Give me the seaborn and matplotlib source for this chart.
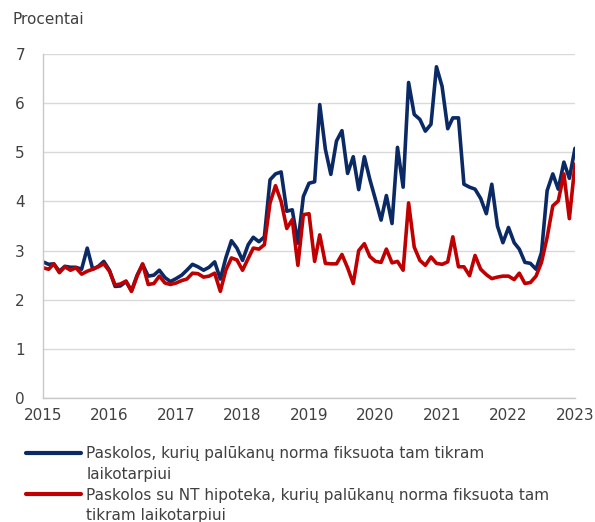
import numpy as np
import pandas as pd
import matplotlib
matplotlib.use("Agg")
import matplotlib.pyplot as plt
from matplotlib.lines import Line2D
import seaborn as sns

# Monthly rates, January 2015 - January 2023
months = pd.date_range("2015-01-01", periods=97, freq="MS")

fixed_rate = [
    2.77, 2.72, 2.73, 2.58, 2.68, 2.66, 2.66, 2.62, 3.05, 2.62, 2.68, 2.78,
    2.60, 2.27, 2.28, 2.37, 2.18, 2.50, 2.72, 2.48, 2.50, 2.60, 2.45, 2.37,
    2.43, 2.50, 2.60, 2.72, 2.67, 2.60, 2.66, 2.77, 2.42, 2.85, 3.20, 3.05,
    2.80, 3.12, 3.27, 3.18, 3.28, 4.44, 4.56, 4.60, 3.80, 3.83, 3.15, 4.10,
    4.37, 4.40, 5.97, 5.06, 4.55, 5.23, 5.44, 4.57, 4.91, 4.24, 4.91, 4.45,
    4.04, 3.62, 4.12, 3.55, 5.10, 4.29, 6.42, 5.77, 5.67, 5.43, 5.57, 6.74,
    6.34, 5.48, 5.70, 5.70, 4.35, 4.29, 4.25, 4.06, 3.75, 4.35, 3.50, 3.16,
    3.47, 3.16, 3.03, 2.76, 2.74, 2.62, 2.96, 4.22, 4.56, 4.25, 4.80, 4.47,
    5.08,
]

mortgage_fixed_rate = [
    2.65, 2.62, 2.73, 2.55, 2.67, 2.60, 2.65, 2.52, 2.58, 2.62, 2.67, 2.73,
    2.58, 2.30, 2.32, 2.38, 2.17, 2.48, 2.73, 2.31, 2.33, 2.48, 2.34, 2.31,
    2.34, 2.39, 2.42, 2.54, 2.53, 2.46, 2.48, 2.54, 2.17, 2.60, 2.85, 2.81,
    2.60, 2.84, 3.05, 3.03, 3.12, 3.97, 4.32, 4.00, 3.45, 3.63, 2.70, 3.73,
    3.75, 2.78, 3.32, 2.74, 2.73, 2.73, 2.92, 2.65, 2.33, 3.00, 3.14, 2.88,
    2.78, 2.76, 3.03, 2.75, 2.78, 2.60, 3.97, 3.07, 2.80, 2.70, 2.87, 2.74,
    2.72, 2.77, 3.28, 2.67, 2.67, 2.49, 2.90, 2.62, 2.51, 2.43, 2.46, 2.48,
    2.48, 2.41, 2.54, 2.33, 2.35, 2.48, 2.76, 3.27, 3.91, 4.01, 4.56, 3.65,
    4.76,
]

series_names = [
    "Paskolos, kurių palūkanų norma fiksuota tam tikram laikotarpiui",
    "Paskolos su NT hipoteka, kurių palūkanų norma fiksuota tam tikram laikotarpiui",
]
legend_lines = [
    ["Paskolos, kurių palūkanų norma fiksuota tam tikram", "laikotarpiui"],
    ["Paskolos su NT hipoteka, kurių palūkanų norma fiksuota tam", "tikram laikotarpiui"],
]
series_colors = ["#0b2a65", "#c00000"]
year_ticks = list(range(2015, 2024))
y_ticks = list(range(0, 8))

df = pd.concat([
    pd.DataFrame({"date": months, "value": fixed_rate, "series": series_names[0]}),
    pd.DataFrame({"date": months, "value": mortgage_fixed_rate, "series": series_names[1]}),
])

sns.set_theme(style="white")
plt.rcParams["font.family"] = ["DejaVu Sans"]
text_color = "#404040"

fig = plt.figure(figsize=(5.95, 5.22), dpi=100)
ax = fig.add_axes([43 / 595, 1 - 398 / 522, 532 / 595, 344 / 522])

sns.lineplot(data=df, x="date", y="value", hue="series",
             palette=dict(zip(series_names, series_colors)),
             linewidth=2.6, ax=ax, legend=False)

ax.set_ylim(0, 7)
ax.set_xlim(pd.Timestamp("2015-01-01"), pd.Timestamp("2023-01-01"))
ax.set_yticks(y_ticks)
ax.set_yticklabels([str(v) for v in y_ticks])
ax.set_xticks([pd.Timestamp(f"{y}-01-01") for y in year_ticks])
ax.set_xticklabels([str(y) for y in year_ticks])
ax.set_xlabel("")
ax.set_ylabel("")

ax.grid(axis="y", color="#d9d9d9", linewidth=1.0)
ax.set_axisbelow(True)
for side in ["top", "right"]:
    ax.spines[side].set_visible(False)
for side in ["left", "bottom"]:
    ax.spines[side].set_color("#c8c8c8")
    ax.spines[side].set_linewidth(1.0)

ax.tick_params(axis="y", length=0, pad=13, labelsize=11, labelcolor=text_color)
ax.tick_params(axis="x", length=0, pad=7.5, labelsize=11, labelcolor=text_color)

fig.text(12 / 595, 1 - 20 / 522, "Procentai", fontsize=11, color=text_color,
         ha="left", va="center")

blank = Line2D([], [], color="none")
handles = [
    Line2D([], [], color=series_colors[0], linewidth=3),
    blank,
    Line2D([], [], color=series_colors[1], linewidth=3),
    blank,
]
labels = [legend_lines[0][0], legend_lines[0][1], legend_lines[1][0], legend_lines[1][1]]
fig.legend(handles, labels, loc="upper left", bbox_to_anchor=(26 / 595, 1 - 446 / 522),
           frameon=False, fontsize=11, handlelength=3.6, handletextpad=0.35,
           labelspacing=0.38, borderpad=0, borderaxespad=0, labelcolor=text_color)

fig.savefig("out.png", dpi=100)
